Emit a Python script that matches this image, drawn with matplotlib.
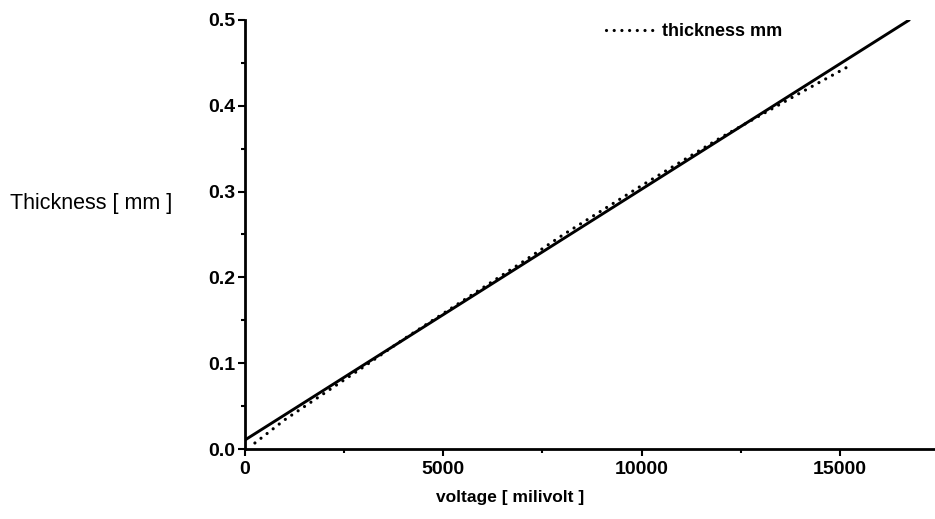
import matplotlib
matplotlib.use('Agg')
import matplotlib.pyplot as plt
from matplotlib.ticker import MultipleLocator

plt.rcParams['font.family'] = ['Liberation Sans', 'DejaVu Sans']

# fitted (solid) line end points
fit_voltage = [0, 16750]
fit_thickness = [0.0105, 0.5]

# measured thickness (dotted)
voltage = [250, 1000, 2000, 3000, 4000, 5000, 6000, 7000, 8000,
           9000, 10000, 11000, 12000, 13000, 14000, 15300]
thickness = [0.007, 0.034, 0.065, 0.096, 0.128, 0.158, 0.188, 0.218, 0.249,
             0.278, 0.307, 0.335, 0.363, 0.389, 0.415, 0.448]

fig = plt.figure(figsize=(9.35, 5.19), dpi=100)
ax = fig.add_axes([245 / 935, 70 / 519, 690 / 935, 429 / 519])

ax.plot(fit_voltage, fit_thickness, color='black', lw=2.1, solid_capstyle='round')
ax.plot(voltage, thickness, color='black', lw=2.3, linestyle=(0, (0.01, 2.4)),
        dash_capstyle='round', label='thickness mm')

ax.set_xlim(0, 17400)
ax.set_ylim(0, 0.5)
ax.xaxis.set_major_locator(MultipleLocator(5000))
ax.xaxis.set_minor_locator(MultipleLocator(2500))
ax.yaxis.set_major_locator(MultipleLocator(0.1))
ax.yaxis.set_minor_locator(MultipleLocator(0.05))
ax.yaxis.set_major_formatter(lambda v, p: f'{v:.1f}')

for s in ['top', 'right']:
    ax.spines[s].set_visible(False)
for s in ['left', 'bottom']:
    ax.spines[s].set_linewidth(2.0)

ax.tick_params(which='major', direction='out', length=5, width=1.5, labelsize=14, pad=2)
ax.tick_params(which='minor', direction='out', length=3, width=1.5)
ax.tick_params(axis='x', which='major', pad=4)
for lbl in ax.get_xticklabels() + ax.get_yticklabels():
    lbl.set_fontweight('bold')

ax.set_xlabel('voltage [ milivolt ]', fontsize=12.5, fontweight='bold', va='center')
ax.xaxis.set_label_coords(0.384, -0.112)
ax.set_ylabel('Thickness [ mm ]', fontsize=15.5, rotation=0, ha='left', va='center')
ax.yaxis.set_label_coords(-0.341, 0.573)

leg = ax.legend(loc='upper left', bbox_to_anchor=(0.50, 1.03), frameon=False,
                handlelength=2.6, handletextpad=0.5,
                prop={'size': 13, 'weight': 'bold'})

fig.savefig('out.png', dpi=100, facecolor='white')
